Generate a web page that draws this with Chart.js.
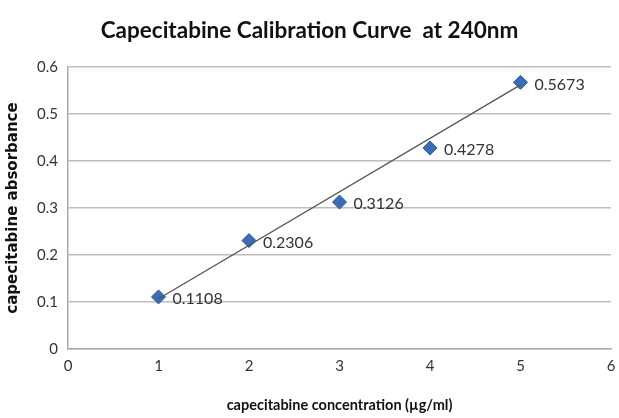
<!DOCTYPE html>
<html>
<head>
<meta charset="utf-8">
<script src="https://cdn.jsdelivr.net/npm/chart.js@4"></script>
<style>
  html, body { margin: 0; padding: 0; background: #fff; overflow: hidden; }
  #wrap { width: 619px; height: 418px; }
</style>
</head>
<body>
<div id="wrap"><canvas id="curve"></canvas></div>
<script>
// data
var concentration = [1, 2, 3, 4, 5];
var absorbance = [0.1108, 0.2306, 0.3126, 0.4278, 0.5673];
var pointLabels = ['0.1108', '0.2306', '0.3126', '0.4278', '0.5673'];
// trendline end points (as drawn)
var trendX = [1, 5];
var trendY = [0.107, 0.562];

var font = 'Lato, "Open Sans", sans-serif';

// writes the value beside each marker
var valueLabels = {
  id: 'valueLabels',
  afterDatasetsDraw: function(chart){
    var ctx = chart.ctx;
    var meta = chart.getDatasetMeta(1);
    ctx.save();
    ctx.font = '16px ' + font;
    ctx.fillStyle = '#333';
    ctx.textBaseline = 'middle';
    for(var i = 0; i < meta.data.length; i++){
      var p = meta.data[i];
      ctx.fillText(pointLabels[i], p.x + 14, p.y + 2);
    }
    ctx.restore();
  }
};

var ctx = document.getElementById('curve');
var chart = new Chart(ctx, {
  type: 'scatter',
  data: {
    datasets: [
      {
        label: 'trend',
        type: 'line',
        data: trendX.map(function(x, i){ return {x: x, y: trendY[i]}; }),
        borderColor: '#555',
        borderWidth: 1.3,
        pointRadius: 0,
        fill: false
      },
      {
        label: 'absorbance',
        data: concentration.map(function(x, i){ return {x: x, y: absorbance[i]}; }),
        pointStyle: 'rectRot',
        pointRadius: 7,
        backgroundColor: '#3a6db5',
        borderColor: '#2a5590',
        borderWidth: 1
      }
    ]
  },
  options: {
    responsive: true,
    maintainAspectRatio: false,
    animation: false,
    layout: { padding: { left: 0, right: 0, top: 0, bottom: 0 } },
    plugins: {
      legend: { display: false },
      tooltip: { enabled: false },
      title: {
        display: true,
        text: 'Capecitabine Calibration Curve  at 240nm',
        color: '#111',
        font: { family: font, size: 22.5, weight: 'bold' },
        padding: { top: 17, bottom: 23 }
      }
    },
    scales: {
      x: {
        type: 'linear',
        min: 0, max: 6,
        ticks: { stepSize: 1, color: '#333', font: { family: font, size: 15 }, padding: 8 },
        grid: { display: false, drawTicks: false },
        border: { display: true, color: '#aaa', width: 1.5 },
        title: {
          display: true,
          text: 'capecitabine concentration (µg/ml)',
          color: '#111',
          font: { family: font, size: 14.5, weight: 'bold' },
          padding: { top: 12 }
        },
        afterFit: function(scale){
          scale.height = 69;
          scale.paddingRight = 7;
        }
      },
      y: {
        min: 0, max: 0.6,
        ticks: { stepSize: 0.1, color: '#333', font: { family: font, size: 15 }, padding: 10 },
        grid: { color: '#bdbdbd', lineWidth: 1.5, drawTicks: false },
        border: { display: true, color: '#aaa', width: 1.5 },
        title: {
          display: true,
          text: 'capecitabine absorbance',
          color: '#111',
          font: { family: '"DejaVu Sans", sans-serif', size: 15, weight: 'bold' },
          padding: { bottom: 0 }
        },
        afterFit: function(scale){ scale.width = 68; }
      }
    }
  },
  plugins: [valueLabels]
});
</script>
</body>
</html>
